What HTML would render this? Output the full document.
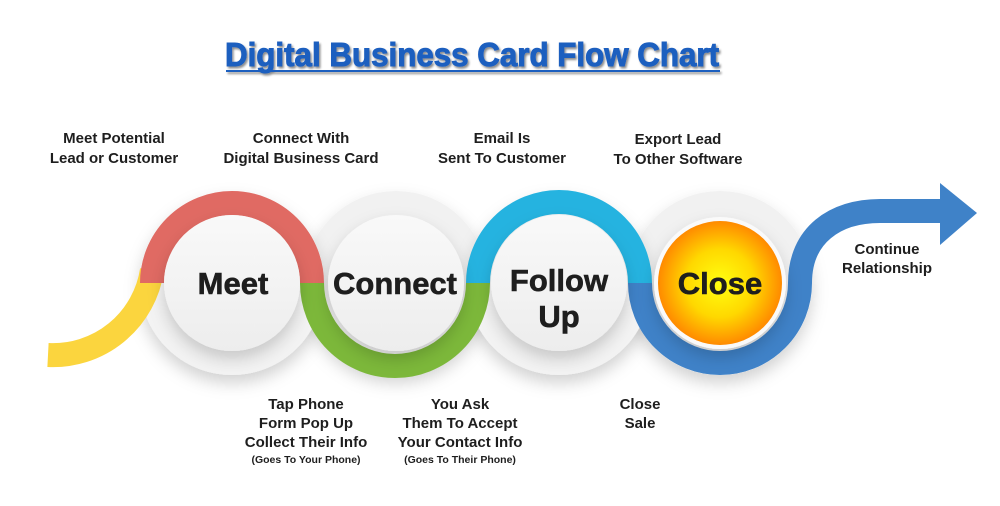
<!DOCTYPE html>
<html><head><meta charset="utf-8"><style>
html,body{margin:0;padding:0;background:#fff;}
svg{display:block;}
text{font-family:"Liberation Sans",sans-serif;font-weight:bold;fill:#1e1e1e;text-anchor:middle;}
</style></head><body>
<svg width="1000" height="506" viewBox="0 0 1000 506" xmlns="http://www.w3.org/2000/svg">
<defs>
<filter id="sh" x="-30%" y="-30%" width="160%" height="170%">
<feDropShadow dx="0" dy="8" stdDeviation="8" flood-color="#000" flood-opacity="0.18"/>
</filter>
<filter id="ts" x="-5%" y="-30%" width="110%" height="160%">
<feDropShadow dx="1.5" dy="2" stdDeviation="1" flood-color="#000" flood-opacity="0.45"/>
</filter>
<radialGradient id="og" cx="50%" cy="50%" r="50%">
<stop offset="0" stop-color="#ffff10"/>
<stop offset="0.55" stop-color="#ffd800"/>
<stop offset="1" stop-color="#ff8a00"/>
</radialGradient>
<linearGradient id="wg" x1="0" y1="0" x2="0" y2="1">
<stop offset="0" stop-color="#f9f9f9"/><stop offset="1" stop-color="#ededed"/>
</linearGradient>
</defs>
<rect width="1000" height="506" fill="#fff"/>
<g filter="url(#ts)">
<text x="472" y="66" font-size="33" textLength="494" lengthAdjust="spacingAndGlyphs" style="fill:#1f5fbf;stroke:#1f5fbf;stroke-width:1">Digital Business Card Flow Chart</text>
<rect x="226" y="70" width="494" height="2" fill="#1f5fbf"/>
</g>

<!-- background discs -->
<circle cx="396" cy="283" r="92" fill="#f1f1f1" filter="url(#sh)"/>
<circle cx="720" cy="283" r="92" fill="#f1f1f1" filter="url(#sh)"/>
<circle cx="232" cy="283" r="92" fill="#f3f3f3" filter="url(#sh)"/>
<circle cx="559" cy="283" r="92" fill="#f3f3f3" filter="url(#sh)"/>

<!-- ribbons -->
<g fill="none" stroke-width="24">
<path d="M152 270 A100 100 0 0 1 48 355" stroke="#fbd53e"/>
<path d="M152 283 A80 80 0 0 1 312 283" stroke="#e06a63"/>
<path d="M312 283 A83 83 0 0 0 478 283" stroke="#7cb83a"/>
<path d="M478 283 A81 81 0 0 1 640 283" stroke="#25b3e0"/>
<path d="M640 283 A80 80 0 0 0 800 283 C800 235 835 211 880 211 L945 211" stroke="#3f82c8"/>
</g>
<polygon points="940,183 977,213 940,245" fill="#3f82c8"/>

<!-- inner circles -->
<circle cx="232" cy="283" r="68" fill="url(#wg)" filter="url(#sh)"/>
<circle cx="396" cy="283" r="68" fill="url(#wg)" filter="url(#sh)"/>
<circle cx="559" cy="283" r="68" fill="url(#wg)" filter="url(#sh)"/>
<circle cx="720" cy="283" r="66" fill="#fafafa" filter="url(#sh)"/>
<circle cx="720" cy="283" r="62" fill="url(#og)"/>

<g style="stroke:#1e1e1e;stroke-width:0.6">
<text x="233" y="294" font-size="31">Meet</text>
<text x="395" y="294" font-size="31">Connect</text>
<text x="559" y="291" font-size="31">Follow</text>
<text x="559" y="327" font-size="31">Up</text>
<text x="720" y="294" font-size="31">Close</text>
</g>

<g font-size="15">
<text x="114" y="143">Meet Potential</text>
<text x="114" y="163">Lead or Customer</text>
<text x="301" y="143">Connect With</text>
<text x="301" y="163">Digital Business Card</text>
<text x="502" y="143">Email Is</text>
<text x="502" y="163">Sent To Customer</text>
<text x="678" y="144">Export Lead</text>
<text x="678" y="164">To Other Software</text>
<text x="887" y="254">Continue</text>
<text x="887" y="273">Relationship</text>
<text x="306" y="409">Tap Phone</text>
<text x="306" y="428">Form Pop Up</text>
<text x="306" y="447">Collect Their Info</text>
<text x="460" y="409">You Ask</text>
<text x="460" y="428">Them To Accept</text>
<text x="460" y="447">Your Contact Info</text>
<text x="640" y="409">Close</text>
<text x="640" y="428">Sale</text>
</g>
<text x="306" y="463" font-size="10.5">(Goes To Your Phone)</text>
<text x="460" y="463" font-size="10.5">(Goes To Their Phone)</text>
</svg>
</body></html>
